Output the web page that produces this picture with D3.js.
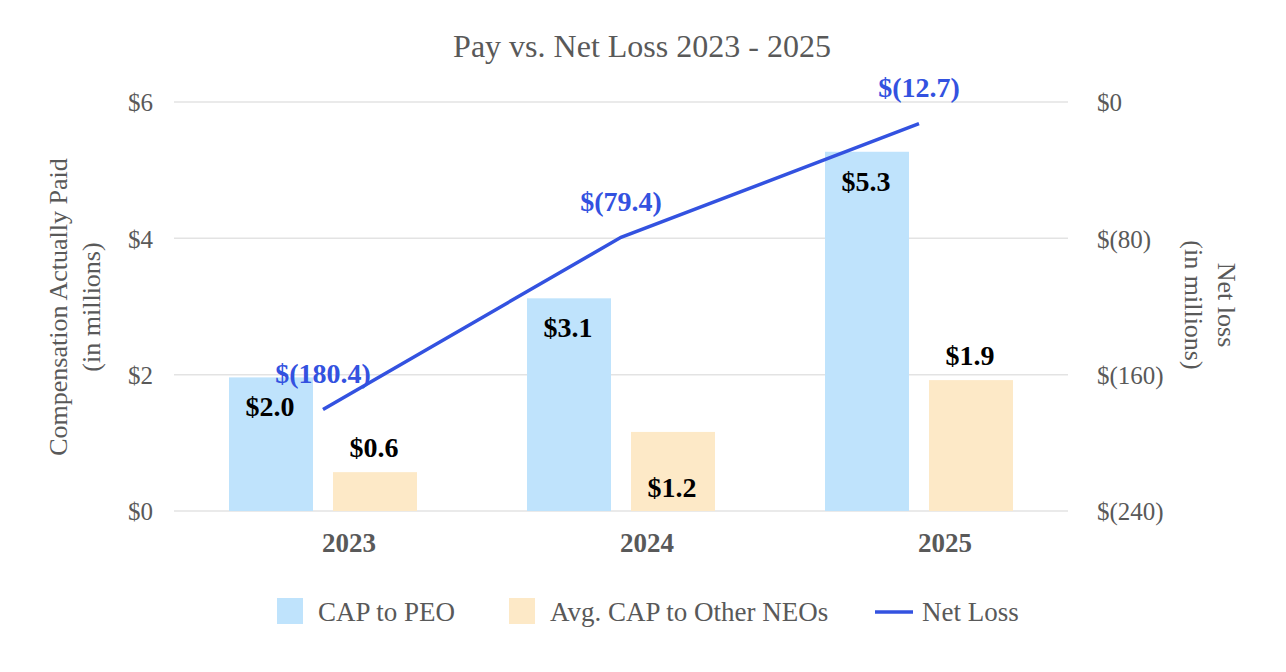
<!DOCTYPE html>
<html>
<head>
  <meta charset="utf-8">
  <title>Pay vs. Net Loss 2023 - 2025</title>
  <script type="text/javascript" src="https://cdn.jsdelivr.net/npm/d3@7/dist/d3.min.js"></script>
  <style>
    body { margin: 0; background: #fff; }
    text { font-family: "Liberation Serif", "Times New Roman", serif; }
  </style>
</head>
<body>
  <svg id="chart"></svg>
  <script>
    // data
    var years = ["2023", "2024", "2025"];
    var capPeo = [1.96, 3.12, 5.27];
    var capNeo = [0.57, 1.16, 1.92];
    var netLoss = [-180.4, -79.4, -12.7];
    var leftTicks = [0, 2, 4, 6];
    var rightTicks = [-240, -160, -80, 0];
    // where each NEO label sits: above the bar or inside at its base
    var neoLabelPos = ["above", "base", "above"];

    var width = 1286, height = 672;
    var svg = d3.select("#chart").attr("width", width).attr("height", height);

    var grey = "#595959";
    var blue = "#3352e0";
    var labelSize = 28;

    var x0 = d3.scaleBand().domain(years).range([174, 1068]);
    var x1 = d3.scaleBand().domain(["peo", "neo"]).range([0, 188]).paddingInner(20 / 104);
    var groupOff = (x0.bandwidth() - 188) / 2;
    var yL = d3.scaleLinear().domain([0, 6]).range([511, 102]);
    var yR = d3.scaleLinear().domain([-240, 0]).range([511, 102]);

    function money(v) { return "$" + d3.format(".1f")(v); }
    function loss(v) { return v < 0 ? "$(" + d3.format(".1f")(-v) + ")" : "$" + d3.format(".1f")(v); }
    function lossTick(v) { return v < 0 ? "$(" + (-v) + ")" : "$" + v; }

    // title
    svg.append("text").attr("x", 642).attr("y", 57).attr("text-anchor", "middle")
      .attr("font-size", 32).attr("fill", grey).text("Pay vs. Net Loss 2023 - 2025");

    // gridlines
    svg.append("g").selectAll("line").data(leftTicks).join("line")
      .attr("x1", 174).attr("x2", 1068)
      .attr("y1", d => yL(d)).attr("y2", d => yL(d))
      .attr("stroke", "#e3e3e3").attr("stroke-width", 1.5);

    // left axis
    var axL = d3.axisLeft(yL).tickValues(leftTicks).tickFormat(d => "$" + d).tickSize(0).tickPadding(0);
    var gL = svg.append("g").attr("transform", "translate(153,0)").call(axL);
    gL.select(".domain").remove();
    gL.selectAll("text").attr("font-size", 25).attr("fill", grey)
      .attr("font-family", "Liberation Serif").attr("dy", "0.35em");

    // right axis
    var axR = d3.axisRight(yR).tickValues(rightTicks).tickFormat(lossTick).tickSize(0).tickPadding(0);
    var gR = svg.append("g").attr("transform", "translate(1097,0)").call(axR);
    gR.select(".domain").remove();
    gR.selectAll("text").attr("font-size", 25).attr("fill", grey)
      .attr("font-family", "Liberation Serif").attr("dy", "0.35em");

    // axis titles
    var lt = svg.append("text").attr("transform", "translate(58,307) rotate(-90)")
      .attr("text-anchor", "middle").attr("font-size", 26).attr("fill", grey);
    lt.append("tspan").attr("x", 0).attr("dy", "0.35em").text("Compensation Actually Paid");
    lt.append("tspan").attr("x", 0).attr("dy", 33).text("(in millions)");

    var rt = svg.append("text").attr("transform", "translate(1227,305) rotate(90)")
      .attr("text-anchor", "middle").attr("font-size", 26).attr("fill", grey);
    rt.append("tspan").attr("x", 0).attr("dy", "0.35em").text("Net loss");
    rt.append("tspan").attr("x", 0).attr("dy", 33).text("(in millions)");

    // bars
    var bars = svg.append("g");
    bars.selectAll("rect.peo").data(capPeo).join("rect").attr("class", "peo")
      .attr("x", (d, i) => x0(years[i]) + groupOff + x1("peo"))
      .attr("width", x1.bandwidth())
      .attr("y", d => yL(d)).attr("height", d => yL(0) - yL(d))
      .attr("fill", "#bfe3fc");
    bars.selectAll("rect.neo").data(capNeo).join("rect").attr("class", "neo")
      .attr("x", (d, i) => x0(years[i]) + groupOff + x1("neo"))
      .attr("width", x1.bandwidth())
      .attr("y", d => yL(d)).attr("height", d => yL(0) - yL(d))
      .attr("fill", "#fde9c7");

    // bar labels
    svg.append("g").selectAll("text").data(capPeo).join("text")
      .attr("x", (d, i) => x0(years[i]) + groupOff + x1("peo") + x1.bandwidth() / 2 - 1)
      .attr("y", d => yL(d) + 29).attr("dy", "0.35em")
      .attr("text-anchor", "middle").attr("font-size", labelSize).attr("font-weight", "bold")
      .attr("fill", "#000").text(money);
    svg.append("g").selectAll("text").data(capNeo).join("text")
      .attr("x", (d, i) => x0(years[i]) + groupOff + x1("neo") + x1.bandwidth() / 2 - 1)
      .attr("y", (d, i) => neoLabelPos[i] === "above" ? yL(d) - 25 : yL(0) - 24).attr("dy", "0.35em")
      .attr("text-anchor", "middle").attr("font-size", labelSize).attr("font-weight", "bold")
      .attr("fill", "#000").text(money);

    // year labels
    svg.append("g").selectAll("text").data(years).join("text")
      .attr("x", d => x0(d) + x0.bandwidth() / 2 + 26).attr("y", 543).attr("dy", "0.35em")
      .attr("text-anchor", "middle").attr("font-size", 27).attr("font-weight", "bold")
      .attr("fill", grey).text(d => d);

    // net loss line
    var pts = netLoss.map((v, i) => [x0(years[i]) + x0.bandwidth() / 2, yR(v)]);
    svg.append("path").datum(pts).attr("d", d3.line())
      .attr("fill", "none").attr("stroke", blue).attr("stroke-width", 3.5);
    svg.append("g").selectAll("text").data(netLoss).join("text")
      .attr("x", (d, i) => pts[i][0]).attr("y", d => yR(d) - 36).attr("dy", "0.35em")
      .attr("text-anchor", "middle").attr("font-size", labelSize).attr("font-weight", "bold")
      .attr("fill", blue).text(loss);

    // legend
    var lg = svg.append("g").attr("font-size", 27).attr("fill", grey);
    lg.append("rect").attr("x", 277).attr("y", 598).attr("width", 26).attr("height", 26).attr("fill", "#bfe3fc");
    lg.append("text").attr("x", 318).attr("y", 612).attr("dy", "0.35em").attr("fill", grey).text("CAP to PEO");
    lg.append("rect").attr("x", 509).attr("y", 598).attr("width", 26).attr("height", 26).attr("fill", "#fde9c7");
    lg.append("text").attr("x", 550).attr("y", 612).attr("dy", "0.35em").attr("fill", grey).text("Avg. CAP to Other NEOs");
    lg.append("line").attr("x1", 875).attr("x2", 913).attr("y1", 612).attr("y2", 612)
      .attr("stroke", blue).attr("stroke-width", 3.5);
    lg.append("text").attr("x", 922).attr("y", 612).attr("dy", "0.35em").attr("fill", grey).text("Net Loss");
  </script>
</body>
</html>
